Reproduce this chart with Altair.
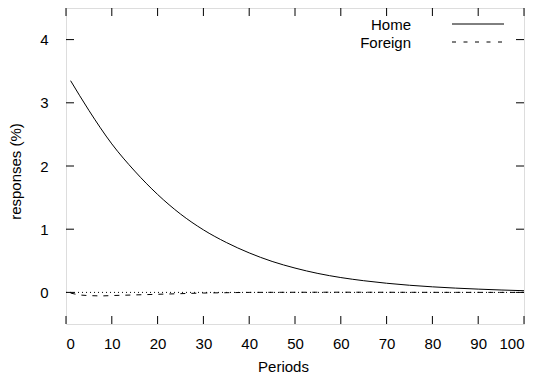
import altair as alt
import pandas as pd

# data
periods = [1, 5, 10, 15, 20, 25, 30, 35, 40, 45, 50, 55, 60, 65, 70, 75, 80, 85, 90, 95, 100]
home = [3.35, 2.88, 2.35, 1.92, 1.55, 1.24, 0.99, 0.79, 0.625, 0.49, 0.385, 0.30, 0.235, 0.185,
        0.145, 0.113, 0.088, 0.068, 0.052, 0.038, 0.027]
foreign_periods = [1, 3, 5, 8, 10, 15, 20, 25, 30, 35, 40, 50, 60, 70, 80, 90, 100]
foreign = [-0.01, -0.04, -0.05, -0.055, -0.05, -0.04, -0.03, -0.02, -0.01, -0.005, 0.0,
           0.002, 0.003, 0.002, 0.001, 0.0005, 0.0]
x_ticks = [0, 10, 20, 30, 40, 50, 60, 70, 80, 90, 100]
y_ticks = [0, 1, 2, 3, 4]
legend_labels = ["Home", "Foreign"]

W, H = 458, 316
FONT = "Liberation Sans"

home_df = pd.DataFrame({"Periods": periods, "v": home})
for_df = pd.DataFrame({"Periods": foreign_periods, "v": foreign})
xt = pd.DataFrame({"t": x_ticks})
yt = pd.DataFrame({"t": y_ticks})

xs = alt.Scale(domain=[0, 100], nice=False, zero=False)
ys = alt.Scale(domain=[-0.5, 4.5], nice=False, zero=False)

xaxis = alt.Axis(values=x_ticks, tickSize=0, labelPadding=12, grid=False, domain=False, format="d",
                 labelFontSize=15, titleFontSize=15, labelFont=FONT, titleFont=FONT,
                 labelColor="black", titleColor="black", titleFontWeight="normal",
                 titlePadding=8, titleX=217, title="Periods")
yaxis = alt.Axis(values=y_ticks, tickSize=0, labelPadding=18, grid=False, domain=False, format="d",
                 labelFontSize=15, titleFontSize=15, labelFont=FONT, titleFont=FONT,
                 labelColor="black", titleColor="black", titleFontWeight="normal",
                 titleX=-51, titleY=163, titleAngle=270, titleBaseline="middle", titleAlign="center",
                 title="responses (%)")

home_line = alt.Chart(home_df).mark_line(color="black", strokeWidth=1, interpolate="monotone").encode(
    x=alt.X("Periods:Q", scale=xs, axis=xaxis),
    y=alt.Y("v:Q", scale=ys, axis=yaxis),
)
zero_line = alt.Chart(pd.DataFrame({"z": [0]})).mark_rule(color="black", strokeWidth=1, strokeDash=[1, 3]).encode(
    y=alt.Y("z:Q", scale=ys), x=alt.value(0), x2=alt.value(W)
)
for_line = alt.Chart(for_df).mark_line(color="black", strokeWidth=1, strokeDash=[5, 6], interpolate="monotone").encode(
    x=alt.X("Periods:Q", scale=xs),
    y=alt.Y("v:Q", scale=ys),
)

tick_b = alt.Chart(xt).mark_rule(color="black").encode(x=alt.X("t:Q", scale=xs), y=alt.value(H), y2=alt.value(H - 8))
tick_t = alt.Chart(xt).mark_rule(color="black").encode(x=alt.X("t:Q", scale=xs), y=alt.value(0), y2=alt.value(8))
tick_l = alt.Chart(yt).mark_rule(color="black").encode(y=alt.Y("t:Q", scale=ys), x=alt.value(0), x2=alt.value(8))
tick_r = alt.Chart(yt).mark_rule(color="black").encode(y=alt.Y("t:Q", scale=ys), x=alt.value(W), x2=alt.value(W - 8))

# legend (top right, gnuplot style: label then sample)
leg_home_t = alt.Chart(pd.DataFrame({"l": [legend_labels[0]]})).mark_text(
    align="right", baseline="middle", fontSize=15, font=FONT, color="black").encode(
    text="l:N", x=alt.value(345), y=alt.value(17))
leg_for_t = alt.Chart(pd.DataFrame({"l": [legend_labels[1]]})).mark_text(
    align="right", baseline="middle", fontSize=15, font=FONT, color="black").encode(
    text="l:N", x=alt.value(345), y=alt.value(35))
leg_home_l = alt.Chart(pd.DataFrame({"l": [legend_labels[0]]})).mark_rule(color="black", strokeWidth=1).encode(
    x=alt.value(386), x2=alt.value(438), y=alt.value(16))
leg_for_l = alt.Chart(pd.DataFrame({"l": [legend_labels[1]]})).mark_rule(color="black", strokeWidth=1, strokeDash=[4, 7.5]).encode(
    x=alt.value(386), x2=alt.value(438), y=alt.value(34))

chart = alt.layer(
    zero_line, for_line, home_line, tick_b, tick_t, tick_l, tick_r,
    leg_home_t, leg_for_t, leg_home_l, leg_for_l,
).properties(
    width=W, height=H,
    autosize=alt.AutoSizeParams(type="none"),
    padding={"left": 58, "top": 0, "right": 5, "bottom": 55},
).configure_view(
    stroke="black", strokeWidth=1.2
).configure(background="white")

chart.save("out.html", embed_options={"renderer": "svg", "actions": False})
